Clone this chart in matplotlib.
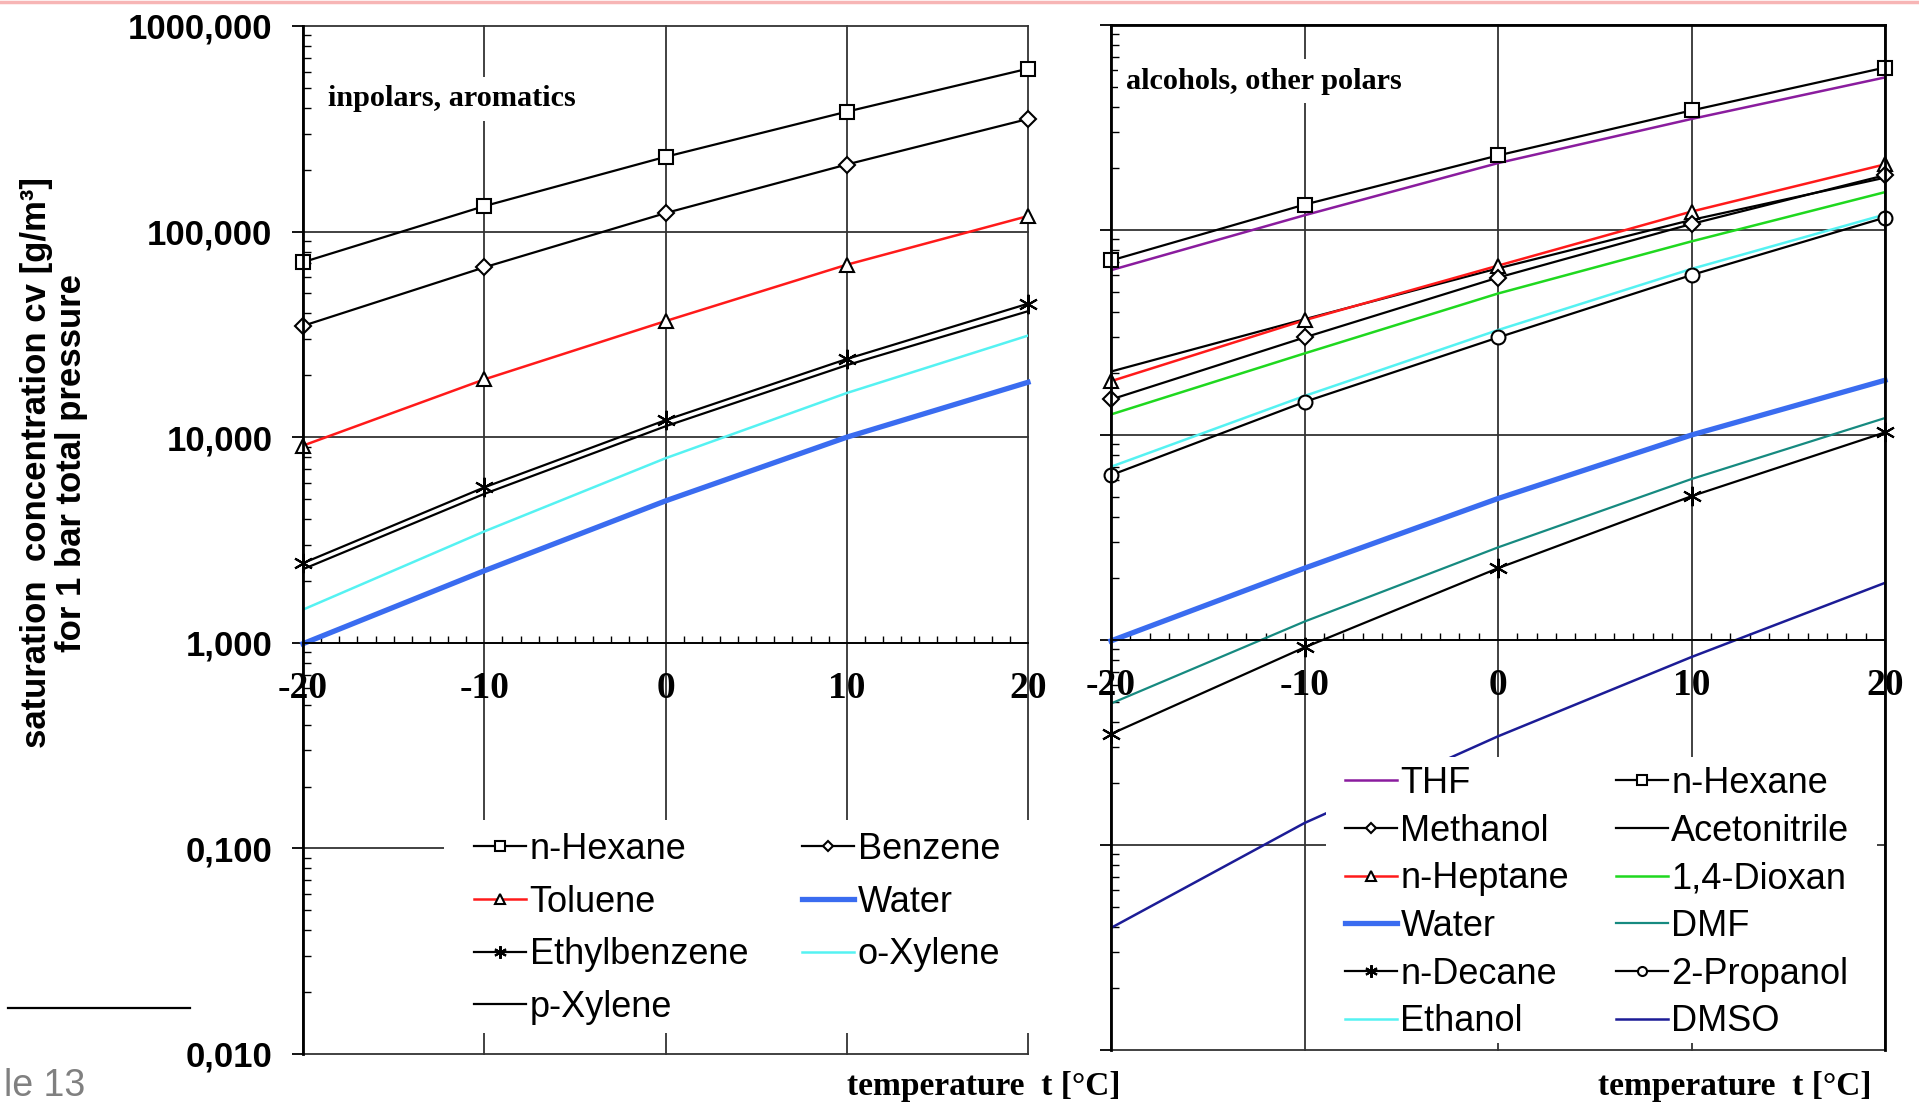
import numpy as np
import matplotlib.pyplot as plt
from matplotlib.patches import Rectangle
from matplotlib.lines import Line2D
from matplotlib.ticker import LogLocator, MultipleLocator, NullFormatter

# temperatures [°C]
temps = [-20, -10, 0, 10, 20]

# left panel: inpolars, aromatics  (saturation concentration, g/m3)
hexane = [71, 133, 231, 383, 620]
benzene = [34.8, 67, 123, 212, 353]
toluene = [9.1, 19.1, 36.7, 69, 119]
ethylbenzene = [2.44, 5.7, 12.1, 24, 44.6]
p_xylene = [2.28, 5.3, 11.3, 22.4, 41]
o_xylene = [1.45, 3.48, 7.9, 16.4, 31.2]
water = [0.99, 2.24, 4.9, 10.0, 18.5]

# right panel: alcohols, other polars
thf = [63.7, 118, 212, 348, 555]
methanol = [14.9, 29.9, 58.6, 107, 185]
acetonitrile = [20.4, 36.7, 65, 112, 180]
heptane = [18.3, 36.3, 67, 123, 209]
dioxan = [12.6, 25, 49, 88, 153]
dmf = [0.49, 1.23, 2.83, 6.1, 12.1]
decane = [0.348, 0.92, 2.24, 5.03, 10.3]
propanol = [6.37, 14.5, 29.9, 60.3, 115]
ethanol = [7.0, 15.5, 32.5, 64.6, 119]
dmso = [0.0394, 0.128, 0.339, 0.826, 1.9]

decades = [0.01, 0.1, 1, 10, 100, 1000]
decade_labels = ['0,010', '0,100', '1,000', '10,000', '100,000', '1000,000']
temp_labels = ['-20', '-10', '0', '10', '20']

SANS = 'Liberation Sans'
SERIF = 'Liberation Serif'

fig = plt.figure(figsize=(19.19, 11.07), dpi=100)
W, H = 1919, 1107


def box(x0, x1, ytop, ybot):
    return [x0 / W, (H - ybot) / H, (x1 - x0) / W, (ybot - ytop) / H]


def setup(ax, show_ylabels):
    ax.set_yscale('log')
    ax.set_xlim(-20, 20)
    ax.set_ylim(0.01, 1000)
    ax.set_yticks(decades)
    ax.set_yticklabels(decade_labels if show_ylabels else [''] * 6,
                       fontfamily=SANS, fontweight='bold', fontsize=25)
    ax.yaxis.set_minor_locator(LogLocator(base=10, subs=np.arange(2, 10)))
    ax.yaxis.set_minor_formatter(NullFormatter())
    ax.tick_params(axis='y', which='major', direction='out', length=8,
                   width=1.3, pad=14)
    ax.tick_params(axis='y', which='minor', direction='in', length=5.5, width=1)
    # x axis drawn through 1,000
    ax.spines['bottom'].set_position(('data', 1.0))
    ax.spines['bottom'].set_linewidth(1.3)
    ax.spines['left'].set_linewidth(2)
    ax.set_xticks(temps)
    ax.set_xticklabels(temp_labels, fontfamily=SERIF, fontweight='bold', fontsize=27)
    ax.xaxis.set_minor_locator(MultipleLocator(1))
    ax.tick_params(axis='x', which='major', length=0, pad=20)
    ax.tick_params(axis='x', which='minor', direction='in', length=5, width=1)
    for d in decades:
        ax.axhline(d, color='#333333', lw=1.3, zorder=1, clip_on=False)
    for t in temps:
        ax.axvline(t, color='#333333', lw=1.3, zorder=1, clip_on=False)


mk = dict(markerfacecolor='white', markeredgecolor='black', markeredgewidth=1.5, clip_on=False)
star = (6, 2, 0)
label_box = dict(facecolor='white', edgecolor='none', pad=6)

# ---------------- left panel ----------------
ax1 = fig.add_axes(box(303, 1028, 26, 1054))
setup(ax1, True)
ax1.spines['top'].set_visible(False)
ax1.spines['right'].set_visible(False)

h_hex, = ax1.plot(temps, hexane, color='black', lw=1.6, marker='s', ms=10, label='n-Hexane', **mk)
h_ben, = ax1.plot(temps, benzene, color='black', lw=1.6, marker='D', ms=8.5, label='Benzene', **mk)
h_tol, = ax1.plot(temps, toluene, color='#ff1a1a', lw=1.8, marker='^', ms=10, label='Toluene', **mk)
h_eth, = ax1.plot(temps, ethylbenzene, color='black', lw=1.6, marker=star, ms=14, label='Ethylbenzene', **mk)
h_px, = ax1.plot(temps, p_xylene, color='black', lw=1.6, label='p-Xylene')
h_ox, = ax1.plot(temps, o_xylene, color='#55f2f2', lw=1.8, label='o-Xylene')
h_w, = ax1.plot(temps, water, color='#3a6cf0', lw=3.8, label='Water', clip_on=False)

ax1.add_patch(Rectangle((0.1945, 0.0204), 0.817, 0.2072, transform=ax1.transAxes,
                        facecolor='white', edgecolor='none', zorder=4, clip_on=False))
leg1 = ax1.legend([h_hex, h_tol, h_eth, h_px, h_ben, h_w, h_ox],
                  ['n-Hexane', 'Toluene', 'Ethylbenzene', 'p-Xylene', 'Benzene', 'Water', 'o-Xylene'],
                  ncol=2, loc='upper left', bbox_to_anchor=(0.236, 0.216), frameon=False,
                  borderpad=0, borderaxespad=0, prop={'family': SANS, 'size': 26},
                  handlelength=1.44, handletextpad=0.1, columnspacing=1.5,
                  labelspacing=0.49, markerscale=0.65)
leg1.set_zorder(5)

ax1.text(0.034, 0.929, 'inpolars, aromatics', transform=ax1.transAxes,
         fontfamily=SERIF, fontweight='bold', fontsize=21.8, va='center', ha='left',
         bbox=label_box, zorder=3)

# ---------------- right panel ----------------
ax2 = fig.add_axes(box(1111, 1885, 25, 1050))
setup(ax2, False)
for s in ['top', 'right']:
    ax2.spines[s].set_linewidth(2)

r_thf, = ax2.plot(temps, thf, color='#8a1c9e', lw=1.8, label='THF')
r_hex, = ax2.plot(temps, hexane, color='black', lw=1.6, marker='s', ms=10, label='n-Hexane', **mk)
r_acn, = ax2.plot(temps, acetonitrile, color='black', lw=1.6, label='Acetonitrile')
r_hep, = ax2.plot(temps, heptane, color='#ff1a1a', lw=1.8, marker='^', ms=10, label='n-Heptane', **mk)
r_met, = ax2.plot(temps, methanol, color='black', lw=1.6, marker='D', ms=8.5, label='Methanol', **mk)
r_dio, = ax2.plot(temps, dioxan, color='#1fd81f', lw=1.8, label='1,4-Dioxan')
r_eth, = ax2.plot(temps, ethanol, color='#55f2f2', lw=1.8, label='Ethanol')
r_pro, = ax2.plot(temps, propanol, color='black', lw=1.6, marker='o', ms=10, label='2-Propanol', **mk)
r_w, = ax2.plot(temps, water, color='#3a6cf0', lw=3.8, label='Water', clip_on=False)
r_dmf, = ax2.plot(temps, dmf, color='#168a80', lw=1.6, label='DMF')
r_dec, = ax2.plot(temps, decane, color='black', lw=1.6, marker=star, ms=14, label='n-Decane', **mk)
r_dmso, = ax2.plot(temps, dmso, color='#1c1c96', lw=1.8, label='DMSO')

ax2.add_patch(Rectangle((0.2778, 0.0068), 0.712, 0.279, transform=ax2.transAxes,
                        facecolor='white', edgecolor='none', zorder=4, clip_on=False))
leg2 = ax2.legend([r_thf, r_met, r_hep, r_w, r_dec, r_eth,
                   r_hex, r_acn, r_dio, r_dmf, r_pro, r_dmso],
                  ['THF', 'Methanol', 'n-Heptane', 'Water', 'n-Decane', 'Ethanol',
                   'n-Hexane', 'Acetonitrile', '1,4-Dioxan', 'DMF', '2-Propanol', 'DMSO'],
                  ncol=2, loc='upper left', bbox_to_anchor=(0.302, 0.277), frameon=False,
                  borderpad=0, borderaxespad=0, prop={'family': SANS, 'size': 26},
                  handlelength=1.44, handletextpad=0.1, columnspacing=1.29,
                  labelspacing=0.35, markerscale=0.65)
leg2.set_zorder(5)

ax2.text(0.02, 0.945, 'alcohols, other polars', transform=ax2.transAxes,
         fontfamily=SERIF, fontweight='bold', fontsize=21.8, va='center', ha='left',
         bbox=label_box, zorder=3)

# axis titles
fig.text(984 / W, 1 - 1087 / H, 'temperature  t [°C]', fontfamily=SERIF, fontweight='bold',
         fontsize=24, ha='center', va='center')
fig.text(1735 / W, 1 - 1086 / H, 'temperature  t [°C]', fontfamily=SERIF, fontweight='bold',
         fontsize=24, ha='center', va='center')
fig.text(54 / W, 1 - 463 / H, 'saturation  concentration cv [g/m³]\nfor 1 bar total pressure',
         fontfamily=SANS, fontweight='bold', fontsize=25, rotation=90,
         ha='center', va='center', linespacing=1.1, multialignment='center')

# slide decorations
fig.add_artist(Line2D([0, 1], [1 - 1.5 / H, 1 - 1.5 / H], transform=fig.transFigure,
                      color='#f7b5b5', lw=2.5))
fig.add_artist(Line2D([8 / W, 190 / W], [1 - 1008 / H, 1 - 1008 / H], transform=fig.transFigure,
                      color='black', lw=1.6))
fig.text(4 / W, 3 / H, 'le 13', fontfamily=SANS, fontsize=27, color='#808080',
         ha='left', va='bottom')

fig.savefig('out.png', dpi=100)
